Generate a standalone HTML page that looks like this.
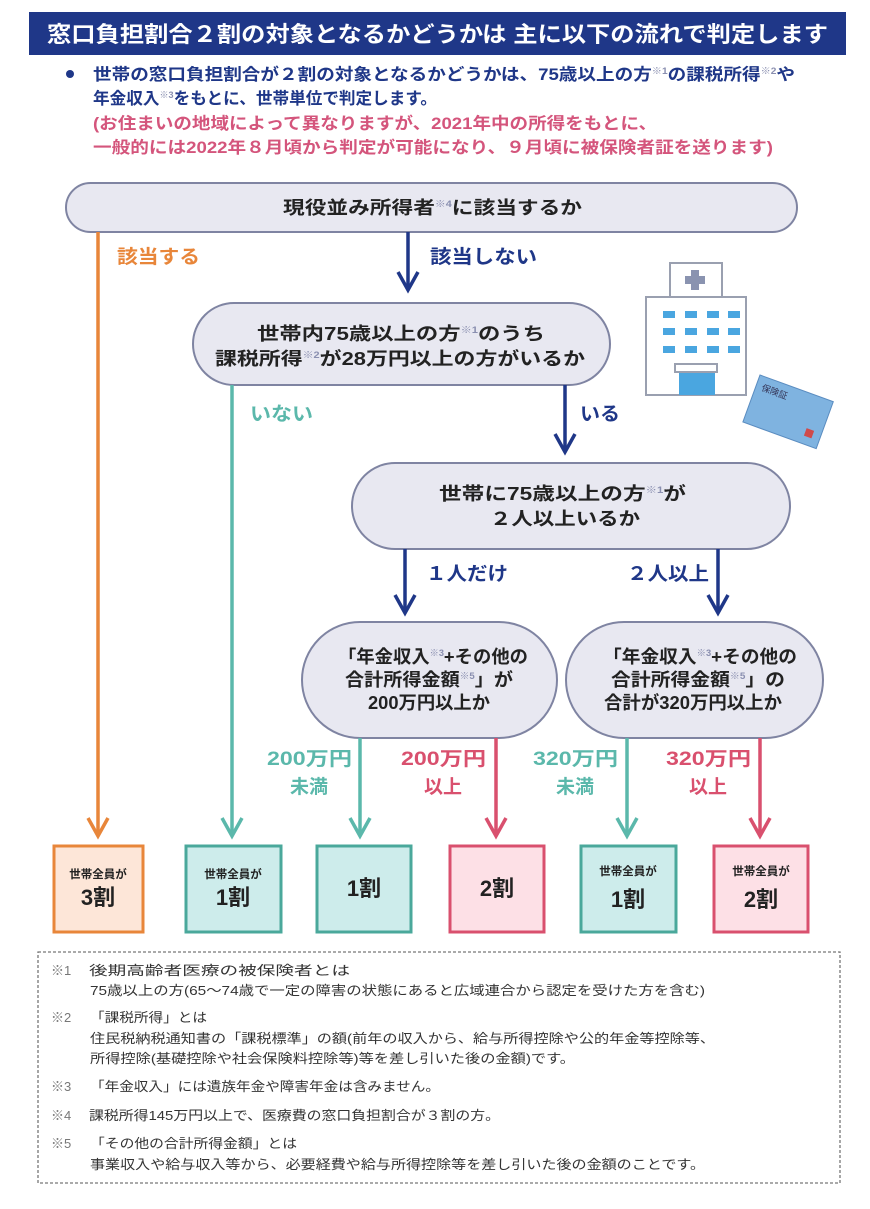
<!DOCTYPE html>
<html><head><meta charset="utf-8"><style>
html,body{margin:0;padding:0;background:#fff;}
svg{display:block;}
text{font-family:"Liberation Sans","Noto Sans CJK JP",sans-serif;}
</style></head><body>
<svg width="870" height="1209" viewBox="0 0 870 1209" xmlns="http://www.w3.org/2000/svg">
<rect x="29" y="12" width="817" height="43" fill="#1f3788"/>
<text x="47" y="42" fill="#fff" font-size="22" font-weight="bold" textLength="781" lengthAdjust="spacingAndGlyphs">窓口負担割合２割の対象となるかどうかは  主に以下の流れで判定します</text>
<circle cx="70" cy="74" r="4" fill="#1f3788"/>
<g font-size="16.5" font-weight="bold">
<text x="93" y="80" fill="#1f3788" textLength="702" lengthAdjust="spacingAndGlyphs">世帯の窓口負担割合が２割の対象となるかどうかは、75歳以上の方<tspan font-size="9" dy="-6" fill="#8a8fb0">※1</tspan><tspan dy="6">の課税所得</tspan><tspan font-size="9" dy="-6" fill="#8a8fb0">※2</tspan><tspan dy="6">や</tspan></text>
<text x="93" y="104" fill="#1f3788" textLength="344" lengthAdjust="spacingAndGlyphs">年金収入<tspan font-size="9" dy="-6" fill="#8a8fb0">※3</tspan><tspan dy="6">をもとに、世帯単位で判定します。</tspan></text>
<text x="93" y="129" fill="#d4557c" textLength="564" lengthAdjust="spacingAndGlyphs">(お住まいの地域によって異なりますが、2021年中の所得をもとに、</text>
<text x="93" y="153" fill="#d4557c" textLength="680" lengthAdjust="spacingAndGlyphs">一般的には2022年８月頃から判定が可能になり、９月頃に被保険者証を送ります)</text>
</g>
<defs>
<style>.box{fill:#e8e8f1;stroke:#7f84a2;stroke-width:2;} .bt{font-size:18px;font-weight:bold;fill:#222;} .sup{font-size:9px;fill:#8a8fb0;}</style>
</defs>
<rect class="box" x="66" y="183" width="731" height="49" rx="24.5"/>
<text class="bt" x="283" y="214" textLength="299" lengthAdjust="spacingAndGlyphs">現役並み所得者<tspan class="sup" dy="-7">※4</tspan><tspan dy="7">に該当するか</tspan></text>
<rect class="box" x="193" y="303" width="417" height="82" rx="41"/>
<text class="bt" x="257" y="340" textLength="288" lengthAdjust="spacingAndGlyphs">世帯内75歳以上の方<tspan class="sup" dy="-7">※1</tspan><tspan dy="7">のうち</tspan></text>
<text class="bt" x="215" y="365" textLength="370" lengthAdjust="spacingAndGlyphs">課税所得<tspan class="sup" dy="-7">※2</tspan><tspan dy="7">が28万円以上の方がいるか</tspan></text>
<rect class="box" x="352" y="463" width="438" height="86" rx="43"/>
<text class="bt" x="439" y="500" textLength="247" lengthAdjust="spacingAndGlyphs">世帯に75歳以上の方<tspan class="sup" dy="-7">※1</tspan><tspan dy="7">が</tspan></text>
<text class="bt" x="490" y="525" textLength="150" lengthAdjust="spacingAndGlyphs">２人以上いるか</text>
<rect class="box" x="302" y="622" width="255" height="116" rx="58"/>
<text class="bt" x="338" y="663" textLength="190" lengthAdjust="spacingAndGlyphs">「年金収入<tspan class="sup" dy="-7">※3</tspan><tspan dy="7">+その他の</tspan></text>
<text class="bt" x="345" y="686" textLength="168" lengthAdjust="spacingAndGlyphs">合計所得金額<tspan class="sup" dy="-7">※5</tspan><tspan dy="7">」が</tspan></text>
<text class="bt" x="368" y="709" textLength="122" lengthAdjust="spacingAndGlyphs">200万円以上か</text>
<rect class="box" x="566" y="622" width="257" height="116" rx="58"/>
<text class="bt" x="603" y="663" textLength="194" lengthAdjust="spacingAndGlyphs">「年金収入<tspan class="sup" dy="-7">※3</tspan><tspan dy="7">+その他の</tspan></text>
<text class="bt" x="611" y="686" textLength="174" lengthAdjust="spacingAndGlyphs">合計所得金額<tspan class="sup" dy="-7">※5</tspan><tspan dy="7">」の</tspan></text>
<text class="bt" x="604" y="709" textLength="178" lengthAdjust="spacingAndGlyphs">合計が320万円以上か</text>
<g fill="none" stroke-width="3.5">
<g stroke="#e8863a"><line x1="98" y1="232" x2="98" y2="836"/><polyline points="88,818 98,836 108,818"/></g>
<g stroke="#1f3788"><line x1="408" y1="232" x2="408" y2="290"/><polyline points="398,272 408,290 418,272"/>
<line x1="565" y1="385" x2="565" y2="452"/><polyline points="555,434 565,452 575,434"/>
<line x1="405" y1="549" x2="405" y2="613"/><polyline points="395,595 405,613 415,595"/>
<line x1="718" y1="549" x2="718" y2="613"/><polyline points="708,595 718,613 728,595"/></g>
<g stroke="#5bb8ab"><line x1="232" y1="385" x2="232" y2="836"/><polyline points="222,818 232,836 242,818"/>
<line x1="360" y1="738" x2="360" y2="836"/><polyline points="350,818 360,836 370,818"/>
<line x1="627" y1="738" x2="627" y2="836"/><polyline points="617,818 627,836 637,818"/></g>
<g stroke="#d9506e"><line x1="496" y1="738" x2="496" y2="836"/><polyline points="486,818 496,836 506,818"/>
<line x1="760" y1="738" x2="760" y2="836"/><polyline points="750,818 760,836 770,818"/></g>
</g>
<g font-size="19" font-weight="bold">
<text x="117" y="263" fill="#e8863a" textLength="83" lengthAdjust="spacingAndGlyphs">該当する</text>
<text x="430" y="263" fill="#1f3788" textLength="107" lengthAdjust="spacingAndGlyphs">該当しない</text>
<text x="250" y="420" fill="#5bb8ab" textLength="63" lengthAdjust="spacingAndGlyphs">いない</text>
<text x="580" y="420" fill="#1f3788" textLength="40" lengthAdjust="spacingAndGlyphs">いる</text>
<text x="426" y="580" fill="#1f3788" textLength="82" lengthAdjust="spacingAndGlyphs">１人だけ</text>
<text x="627" y="580" fill="#1f3788" textLength="82" lengthAdjust="spacingAndGlyphs">２人以上</text>
<text x="267" y="765" fill="#5bb8ab" textLength="85" lengthAdjust="spacingAndGlyphs">200万円</text><text x="290" y="793" fill="#5bb8ab">未満</text>
<text x="401" y="765" fill="#d9506e" textLength="85" lengthAdjust="spacingAndGlyphs">200万円</text><text x="424" y="793" fill="#d9506e">以上</text>
<text x="533" y="765" fill="#5bb8ab" textLength="85" lengthAdjust="spacingAndGlyphs">320万円</text><text x="556" y="793" fill="#5bb8ab">未満</text>
<text x="666" y="765" fill="#d9506e" textLength="85" lengthAdjust="spacingAndGlyphs">320万円</text><text x="689" y="793" fill="#d9506e">以上</text>
</g>
<!-- hospital -->
<g stroke="#9aa0b0" stroke-width="2" fill="#fff">
<rect x="670" y="263" width="52" height="34"/>
<rect x="646" y="297" width="100" height="98"/>
</g>
<rect x="691" y="270" width="8" height="20" fill="#8a93b0"/><rect x="685" y="276" width="20" height="8" fill="#8a93b0"/>
<g fill="#4aa6e0">
<rect x="663" y="311" width="12" height="7"/><rect x="685" y="311" width="12" height="7"/><rect x="707" y="311" width="12" height="7"/><rect x="728" y="311" width="12" height="7"/>
<rect x="663" y="328" width="12" height="7"/><rect x="685" y="328" width="12" height="7"/><rect x="707" y="328" width="12" height="7"/><rect x="728" y="328" width="12" height="7"/>
<rect x="663" y="346" width="12" height="7"/><rect x="685" y="346" width="12" height="7"/><rect x="707" y="346" width="12" height="7"/><rect x="728" y="346" width="12" height="7"/>
<rect x="679" y="371" width="36" height="24"/>
</g>
<rect x="675" y="364" width="42" height="8" fill="#fff" stroke="#9aa0b0" stroke-width="2"/>
<g transform="translate(760,375) rotate(20)">
<rect x="0" y="0" width="78" height="50" fill="#7fb3e0" stroke="#5a8cc0"/>
<text x="6" y="14" font-size="9" fill="#335">保険証</text>
<rect x="62" y="34" width="8" height="8" fill="#d04a4a"/>
</g>
<!-- results -->
<g stroke-width="3">
<rect x="54" y="846" width="89" height="86" fill="#fde6d8" stroke="#e8863a"/>
<rect x="186" y="846" width="95" height="86" fill="#cdeceb" stroke="#4aa89b"/>
<rect x="317" y="846" width="94" height="86" fill="#cdeceb" stroke="#4aa89b"/>
<rect x="450" y="846" width="94" height="86" fill="#fde0e6" stroke="#d9506e"/>
<rect x="581" y="846" width="95" height="86" fill="#cdeceb" stroke="#4aa89b"/>
<rect x="714" y="846" width="94" height="86" fill="#fde0e6" stroke="#d9506e"/>
</g>
<g font-weight="bold" fill="#222" text-anchor="middle">
<text x="98" y="878" font-size="11.5">世帯全員が</text><text x="98" y="905" font-size="22">3割</text>
<text x="233" y="878" font-size="11.5">世帯全員が</text><text x="233" y="905" font-size="22">1割</text>
<text x="364" y="896" font-size="22">1割</text>
<text x="497" y="896" font-size="22">2割</text>
<text x="628" y="875" font-size="11.5">世帯全員が</text><text x="628" y="907" font-size="22">1割</text>
<text x="761" y="875" font-size="11.5">世帯全員が</text><text x="761" y="907" font-size="22">2割</text>
</g>
<rect x="38" y="952" width="802" height="231" fill="none" stroke="#777" stroke-width="1.3" stroke-dasharray="3,2"/>
<g font-size="13" fill="#333">
<text x="51" y="975" fill="#777">※1</text><text x="89" y="975" textLength="261" lengthAdjust="spacingAndGlyphs">後期高齢者医療の被保険者とは</text>
<text x="90" y="995" textLength="615" lengthAdjust="spacingAndGlyphs">75歳以上の方(65～74歳で一定の障害の状態にあると広域連合から認定を受けた方を含む)</text>
<text x="51" y="1022" fill="#777">※2</text><text x="90" y="1022" textLength="117" lengthAdjust="spacingAndGlyphs">「課税所得」とは</text>
<text x="90" y="1043" textLength="625" lengthAdjust="spacingAndGlyphs">住民税納税通知書の「課税標準」の額(前年の収入から、給与所得控除や公的年金等控除等、</text>
<text x="90" y="1063" textLength="485" lengthAdjust="spacingAndGlyphs">所得控除(基礎控除や社会保険料控除等)等を差し引いた後の金額)です。</text>
<text x="51" y="1091" fill="#777">※3</text><text x="90" y="1091" textLength="350" lengthAdjust="spacingAndGlyphs">「年金収入」には遺族年金や障害年金は含みません。</text>
<text x="51" y="1120" fill="#777">※4</text><text x="89" y="1120" textLength="411" lengthAdjust="spacingAndGlyphs">課税所得145万円以上で、医療費の窓口負担割合が３割の方。</text>
<text x="51" y="1148" fill="#777">※5</text><text x="90" y="1148" textLength="207" lengthAdjust="spacingAndGlyphs">「その他の合計所得金額」とは</text>
<text x="90" y="1169" textLength="615" lengthAdjust="spacingAndGlyphs">事業収入や給与収入等から、必要経費や給与所得控除等を差し引いた後の金額のことです。</text>
</g>
</svg>
</body></html>
